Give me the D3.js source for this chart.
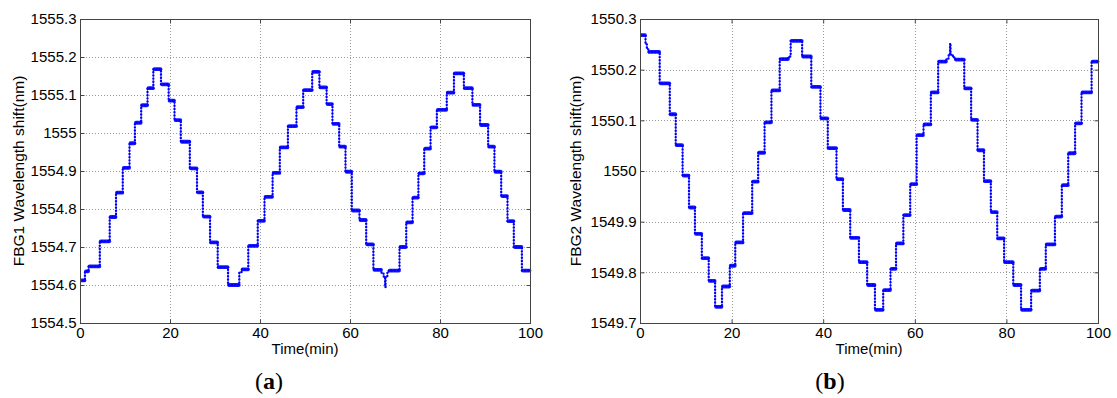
<!DOCTYPE html>
<html>
<head>
<meta charset="utf-8">
<script src="https://cdn.jsdelivr.net/npm/d3@7"></script>
<style>
  body { margin: 0; background: #fff; }
  text { font-family: "Liberation Sans", Arial, sans-serif; fill: #000; }
</style>
</head>
<body>
<div id="canvas"></div>
<script>
// time axis ticks (min)
const xTicks = [0, 20, 40, 60, 80, 100];

// FBG1: step start times (min) and wavelength (nm)
const fbg1Time = [0, 1.1, 1.9, 4.4, 6.6, 8.0, 9.5, 11.0, 12.2, 13.6, 15.0, 16.3, 18.0, 19.7, 21.0, 22.4,
  24.4, 26.0, 27.3, 28.9, 30.6, 32.9, 35.4, 35.9, 37.4, 39.5, 41.0, 42.8, 44.4, 46.2, 48.1, 49.6,
  51.6, 53.2, 54.8, 56.1, 57.6, 59.0, 60.4, 62.1, 63.6, 65.2, 67.0, 67.5, 67.8, 67.9, 68.3, 68.6,
  71.0, 72.5, 73.9, 75.2, 76.5, 77.9, 79.3, 81.5, 83.1, 85.3, 87.2, 88.9, 90.7, 92.1, 93.6, 95.0,
  96.4, 98.2, 100];
const fbg1Shift = [1554.612, 1554.636, 1554.649, 1554.715, 1554.779, 1554.843, 1554.908, 1554.973,
  1555.027, 1555.073, 1555.118, 1555.168, 1555.128, 1555.085, 1555.034, 1554.977,
  1554.907, 1554.844, 1554.780, 1554.712, 1554.647, 1554.600, 1554.634, 1554.641,
  1554.703, 1554.769, 1554.832, 1554.895, 1554.962, 1555.018, 1555.068, 1555.113,
  1555.161, 1555.120, 1555.076, 1555.024, 1554.964, 1554.898, 1554.796, 1554.771,
  1554.707, 1554.640, 1554.630, 1554.622, 1554.594, 1554.622, 1554.632, 1554.638,
  1554.700, 1554.765, 1554.830, 1554.894, 1554.959, 1555.015, 1555.061, 1555.106,
  1555.157, 1555.118, 1555.074, 1555.021, 1554.964, 1554.898, 1554.834, 1554.768,
  1554.700, 1554.638, 1554.638];
const fbg1Ticks = [1554.5, 1554.6, 1554.7, 1554.8, 1554.9, 1555, 1555.1, 1555.2, 1555.3];

// FBG2
const fbg2Time = [0, 1.2, 1.5, 1.8, 4.3, 6.5, 7.8, 9.3, 10.7, 12.0, 13.5, 15.0, 16.4, 17.9, 19.6, 20.8,
  22.5, 24.5, 25.8, 27.2, 28.7, 30.5, 32.4, 32.9, 35.4, 37.4, 39.4, 41.0, 42.9, 44.3, 45.9, 47.8,
  49.6, 51.3, 53.1, 54.7, 55.9, 57.5, 59.0, 60.4, 61.9, 63.5, 65.1, 66.9, 67.4, 67.7, 67.8, 68.3,
  68.8, 70.8, 72.3, 73.7, 75.1, 76.6, 78.0, 79.5, 81.5, 83.2, 85.4, 87.3, 88.6, 90.6, 92.1, 93.5,
  95.0, 96.4, 98.6, 100];
const fbg2Shift = [1550.268, 1550.250, 1550.241, 1550.235, 1550.173, 1550.112, 1550.051, 1549.991,
  1549.928, 1549.876, 1549.828, 1549.783, 1549.732, 1549.772, 1549.813, 1549.859,
  1549.917, 1549.979, 1550.036, 1550.096, 1550.159, 1550.221, 1550.226, 1550.257,
  1550.226, 1550.166, 1550.104, 1550.045, 1549.984, 1549.923, 1549.868, 1549.820,
  1549.775, 1549.726, 1549.765, 1549.807, 1549.857, 1549.913, 1549.974, 1550.071,
  1550.092, 1550.155, 1550.216, 1550.222, 1550.230, 1550.252, 1550.230, 1550.224,
  1550.220, 1550.163, 1550.101, 1550.041, 1549.980, 1549.919, 1549.867, 1549.820,
  1549.775, 1549.726, 1549.764, 1549.807, 1549.855, 1549.910, 1549.972, 1550.035,
  1550.094, 1550.155, 1550.216, 1550.216];
const fbg2Ticks = [1549.7, 1549.8, 1549.9, 1550, 1550.1, 1550.2, 1550.3];

const W = 1117, H = 398;
const BLUE = "#0000ff", AXIS = "#444", GRID = "#999";
const FONT = '"Liberation Sans", Arial, sans-serif';

const svg = d3.select("#canvas").append("svg")
  .attr("width", W).attr("height", H);

const drawPanel = (p) => {
  const g = svg.append("g");
  const x = d3.scaleLinear().domain([0, 100]).range([p.left, p.right]);
  const y = d3.scaleLinear()
    .domain([p.ticks[0], p.ticks[p.ticks.length - 1]])
    .range([p.bottom, p.top]);

  // dotted grid
  const grid = g.append("g").attr("stroke", GRID).attr("stroke-width", 1)
    .attr("stroke-dasharray", "1,2");
  grid.selectAll("line.vx").data(xTicks.slice(1, -1)).join("line")
    .attr("x1", d => Math.round(x(d)) + 0.5).attr("x2", d => Math.round(x(d)) + 0.5)
    .attr("y1", p.top).attr("y2", p.bottom);
  grid.selectAll("line.hy").data(p.ticks.slice(1, -1)).join("line")
    .attr("x1", p.left).attr("x2", p.right)
    .attr("y1", d => Math.round(y(d)) + 0.5).attr("y2", d => Math.round(y(d)) + 0.5);

  // data
  const pts = p.time.map((t, i) => [t, p.shift[i]]);
  const clipId = "clip" + p.name;
  svg.append("clipPath").attr("id", clipId).append("rect")
    .attr("x", p.left).attr("y", p.top - 3)
    .attr("width", p.right - p.left + 2).attr("height", p.bottom - p.top + 3);
  const data = g.append("g").attr("clip-path", `url(#${clipId})`);

  const line = d3.line().x(d => x(d[0])).y(d => y(d[1])).curve(d3.curveStepAfter);

  // plateaus (dense markers look solid)
  data.selectAll("line.plateau").data(pts.slice(0, -1).map((d, i) => [d, pts[i + 1]])
      .filter(s => s[1][0] - s[0][0] > 0.7))
    .join("line")
    .attr("x1", s => x(s[0][0]) + 1).attr("x2", s => x(s[1][0]) - 0.5)
    .attr("y1", s => y(s[0][1])).attr("y2", s => y(s[0][1]))
    .attr("stroke", BLUE).attr("stroke-width", 3.8).attr("stroke-linecap", "round")
    .attr("stroke-opacity", 0.9);

  data.append("path").datum(pts).attr("d", line)
    .attr("fill", "none").attr("stroke", BLUE).attr("stroke-width", 0.8)
    .attr("stroke-opacity", 0.7);
  data.append("path").datum(pts).attr("d", line)
    .attr("fill", "none").attr("stroke", BLUE).attr("stroke-width", 2.4)
    .attr("stroke-linecap", "round").attr("stroke-dasharray", "0,3.2");

  // box
  g.append("rect").attr("x", p.left + 0.5).attr("y", p.top + 0.5)
    .attr("width", p.right - p.left).attr("height", p.bottom - p.top)
    .attr("fill", "none").attr("stroke", AXIS);

  const style = sel => {
    sel.attr("font-size", 15).attr("font-family", FONT);
    sel.selectAll("path").remove();
    sel.selectAll("line").attr("stroke", AXIS);
    sel.selectAll("text").attr("fill", "#000");
  };

  g.append("g").attr("transform", `translate(${p.left + 0.5},0)`)
    .call(d3.axisLeft(y).tickValues(p.ticks).tickSizeInner(-4).tickSizeOuter(0)
      .tickPadding(4).tickFormat(d => String(d)))
    .call(style);
  g.append("g").attr("transform", `translate(${p.right + 0.5},0)`)
    .call(d3.axisRight(y).tickValues(p.ticks).tickSizeInner(-4).tickSizeOuter(0)
      .tickFormat(() => ""))
    .call(style);
  g.append("g").attr("transform", `translate(0,${p.bottom + 0.5})`)
    .call(d3.axisBottom(x).tickValues(xTicks).tickSizeInner(-4).tickSizeOuter(0)
      .tickPadding(4).tickFormat(d => String(d)))
    .call(style);
  g.append("g").attr("transform", `translate(0,${p.top + 0.5})`)
    .call(d3.axisTop(x).tickValues(xTicks).tickSizeInner(-4).tickSizeOuter(0)
      .tickFormat(() => ""))
    .call(style);

  // axis titles
  g.append("text").attr("x", (p.left + p.right) / 2).attr("y", 354)
    .attr("text-anchor", "middle").attr("font-size", 15).text("Time(min)");
  g.append("text")
    .attr("transform", `translate(${p.labelX},${(p.top + p.bottom) / 2}) rotate(-90)`)
    .attr("text-anchor", "middle").attr("font-size", 15.5).text(p.yLabel);

  // sub caption
  const cap = g.append("text").attr("x", p.capX).attr("y", 389)
    .attr("text-anchor", "middle").attr("font-size", 24)
    .style("font-family", '"Liberation Serif", "DejaVu Serif", serif');
  cap.append("tspan").text("(");
  cap.append("tspan").attr("font-weight", "bold").text(p.cap);
  cap.append("tspan").text(")");
};

drawPanel({
  name: "a", left: 80, right: 530, top: 19, bottom: 323,
  time: fbg1Time, shift: fbg1Shift, ticks: fbg1Ticks,
  yLabel: "FBG1 Wavelength shift(nm)", labelX: 24, capX: 269, cap: "a"
});
drawPanel({
  name: "b", left: 640, right: 1098, top: 19, bottom: 323,
  time: fbg2Time, shift: fbg2Shift, ticks: fbg2Ticks,
  yLabel: "FBG2 Wavelength shift(nm)", labelX: 581, capX: 830, cap: "b"
});
</script>
</body>
</html>
